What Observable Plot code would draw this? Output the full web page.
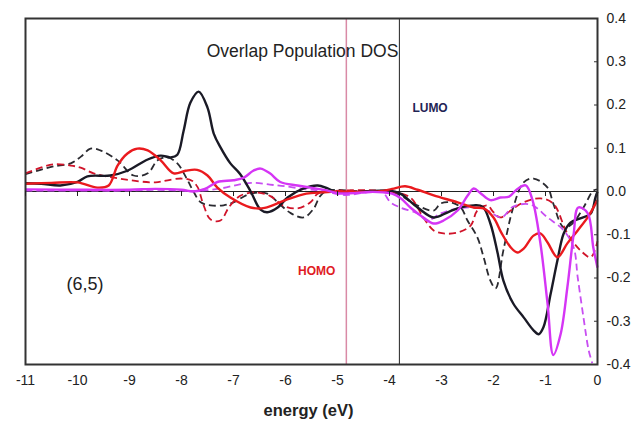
<!DOCTYPE html>
<html><head><meta charset="utf-8">
<script src="https://cdn.jsdelivr.net/npm/d3@7"></script>
<script src="https://cdn.jsdelivr.net/npm/@observablehq/plot@0.6"></script>
<style>
body{margin:0;background:#fff;font-family:"Liberation Sans",Arial,sans-serif}
#chart svg{display:block}
</style>
</head><body><div id="chart"></div>
<script>
// ---------- data ----------
const title = "Overlap Population DOS";
const xLabel = "energy (eV)";
const sampleLabel = "(6,5)";
const homoLabel = "HOMO";
const lumoLabel = "LUMO";
const homoEnergy = -4.83;
const lumoEnergy = -3.81;
const energyTicks = [-11,-10,-9,-8,-7,-6,-5,-4,-3,-2,-1,0];
const dosTicks = [-0.4,-0.3,-0.2,-0.1,0,0.1,0.2,0.3,0.4];

// [energy (eV), overlap population DOS]
const blackSolid = [[-11,0.019],[-10.7,0.018],[-10.33,0.014],[-10.0,0.022],[-9.81,0.035],[-9.37,0.037],[-9.04,0.048],[-8.65,0.074],[-8.4,0.083],[-8.21,0.079],[-8.08,0.085],[-7.96,0.14],[-7.83,0.205],[-7.67,0.231],[-7.5,0.194],[-7.38,0.134],[-7.25,0.102],[-7.06,0.065],[-6.87,0.04],[-6.67,0.0],[-6.48,-0.042],[-6.35,-0.048],[-6.15,-0.037],[-5.96,-0.014],[-5.65,0.007],[-5.38,0.014],[-5.19,0.007],[-5.0,-0.002],[-4.5,0.0],[-3.98,0.002],[-3.79,-0.005],[-3.46,-0.037],[-3.15,-0.06],[-2.88,-0.048],[-2.69,-0.039],[-2.38,-0.032],[-2.21,-0.035],[-2.06,-0.074],[-1.92,-0.143],[-1.81,-0.206],[-1.62,-0.259],[-1.42,-0.291],[-1.23,-0.321],[-1.13,-0.33],[-1.04,-0.314],[-0.9,-0.236],[-0.77,-0.159],[-0.65,-0.097],[-0.52,-0.072],[-0.33,-0.062],[-0.13,-0.051],[-0.04,-0.014],[0,0.0]];
const blackDashed = [[-11,0.04],[-10.71,0.05],[-10.46,0.058],[-10.13,0.065],[-9.94,0.08],[-9.75,0.099],[-9.56,0.095],[-9.23,0.072],[-8.92,0.037],[-8.65,0.042],[-8.46,0.072],[-8.27,0.079],[-8.08,0.065],[-7.9,0.03],[-7.77,0.0],[-7.63,-0.025],[-7.44,-0.032],[-7.19,-0.032],[-7.0,-0.025],[-6.67,-0.005],[-6.35,-0.005],[-6.15,-0.025],[-5.9,-0.05],[-5.65,-0.06],[-5.46,-0.04],[-5.33,-0.01],[-5.19,0.002],[-4.5,0.0],[-4.0,0.0],[-3.8,-0.008],[-3.5,-0.03],[-3.15,-0.044],[-3.02,-0.028],[-2.83,-0.025],[-2.63,-0.037],[-2.5,-0.067],[-2.31,-0.106],[-2.19,-0.152],[-2.06,-0.206],[-1.96,-0.224],[-1.81,-0.136],[-1.62,-0.037],[-1.42,0.021],[-1.23,0.03],[-0.96,0.009],[-0.85,-0.028],[-0.65,-0.083],[-0.48,-0.074],[-0.27,-0.037],[-0.08,0.002],[0,0.005]];
const redSolid = [[-11,0.018],[-10.5,0.02],[-10.0,0.021],[-9.62,0.009],[-9.4,0.014],[-9.23,0.06],[-9.04,0.088],[-8.85,0.099],[-8.65,0.095],[-8.4,0.072],[-8.15,0.042],[-7.92,0.048],[-7.7,0.05],[-7.5,0.037],[-7.31,0.009],[-7.06,-0.014],[-6.67,-0.037],[-6.4,-0.038],[-6.0,-0.02],[-5.6,-0.005],[-5.3,-0.002],[-5.0,0.0],[-4.2,0.0],[-3.95,0.006],[-3.7,0.012],[-3.46,0.004],[-3.15,-0.009],[-2.69,-0.025],[-2.38,-0.037],[-2.19,-0.039],[-2.0,-0.06],[-1.85,-0.095],[-1.67,-0.129],[-1.54,-0.141],[-1.42,-0.132],[-1.23,-0.102],[-1.1,-0.097],[-0.96,-0.118],[-0.77,-0.152],[-0.58,-0.12],[-0.38,-0.09],[-0.19,-0.06],[0,-0.02]];
const redDashed = [[-11,0.042],[-10.71,0.055],[-10.46,0.063],[-10.13,0.06],[-9.94,0.055],[-9.69,0.042],[-9.3,0.032],[-8.92,0.025],[-8.5,0.021],[-8.3,0.025],[-8.0,0.03],[-7.8,0.025],[-7.69,0.01],[-7.58,-0.03],[-7.44,-0.065],[-7.25,-0.067],[-7.08,-0.035],[-6.87,-0.01],[-6.6,-0.002],[-6.3,-0.01],[-6.04,-0.033],[-5.77,-0.039],[-5.52,-0.025],[-5.38,-0.005],[-5.2,0.0],[-4.0,0.0],[-3.6,-0.014],[-3.35,-0.06],[-3.15,-0.09],[-2.96,-0.097],[-2.69,-0.095],[-2.44,-0.079],[-2.31,-0.044],[-2.12,-0.032],[-2.0,-0.048],[-1.87,-0.06],[-1.67,-0.044],[-1.42,-0.025],[-1.1,-0.016],[-0.85,-0.028],[-0.58,-0.097],[-0.33,-0.136],[-0.13,-0.152],[0,-0.115]];
const magentaSolid = [[-11,0.005],[-10,0.004],[-9,0.004],[-8.5,0.006],[-8.0,0.004],[-7.77,0.0],[-7.55,0.006],[-7.31,0.022],[-7.0,0.026],[-6.8,0.032],[-6.62,0.048],[-6.48,0.053],[-6.3,0.042],[-6.1,0.022],[-5.77,0.014],[-5.52,0.009],[-5.19,0.002],[-5.0,-0.004],[-4.75,-0.004],[-4.37,-0.001],[-4.12,-0.002],[-3.95,-0.005],[-3.79,-0.015],[-3.6,-0.037],[-3.35,-0.06],[-3.15,-0.074],[-2.96,-0.067],[-2.69,-0.044],[-2.5,-0.01],[-2.38,0.007],[-2.25,-0.004],[-2.06,-0.02],[-1.87,-0.014],[-1.7,-0.012],[-1.54,0.006],[-1.38,0.014],[-1.25,-0.02],[-1.1,-0.118],[-0.96,-0.26],[-0.85,-0.378],[-0.71,-0.33],[-0.58,-0.222],[-0.46,-0.1],[-0.37,-0.037],[-0.19,-0.05],[-0.08,-0.13],[0,-0.176]];
const magentaDashed = [[-11,0.002],[-10,0.002],[-9,0.002],[-8.5,0.004],[-8,0.002],[-7.6,0.002],[-7.2,0.008],[-6.9,0.016],[-6.6,0.02],[-6.3,0.016],[-6.0,0.012],[-5.6,0.005],[-5.3,0.002],[-5.0,-0.006],[-4.8,-0.008],[-4.5,-0.003],[-4.15,0.0],[-3.98,-0.025],[-3.79,-0.037],[-3.46,-0.051],[-3.27,-0.067],[-3.02,-0.051],[-2.69,-0.039],[-2.38,-0.037],[-2.1,-0.045],[-1.85,-0.06],[-1.62,-0.035],[-1.29,-0.03],[-0.96,-0.06],[-0.65,-0.09],[-0.46,-0.129],[-0.38,-0.199],[-0.27,-0.291],[-0.17,-0.367],[-0.1,-0.397]];

// ---------- styling ----------
const W = 635, H = 430;
const mTop = 18, mBottom = 66, mLeft = 25, mRight = 38;
const innerH = H - mTop - mBottom;
const zeroOffset = innerH * (0 - dosTicks[0]) / (dosTicks[dosTicks.length-1] - dosTicks[0]);

const seriesStyles = [
  {data: blackDashed,   stroke: "#2a2a30", width: 1.8, dash: "7,4"},
  {data: redDashed,     stroke: "#d0142a", width: 1.8, dash: "7,4"},
  {data: magentaDashed, stroke: "#c84ef2", width: 1.8, dash: "7,4"},
  {data: blackSolid,    stroke: "#1a1a26", width: 2.4, dash: null},
  {data: redSolid,      stroke: "#ea1a1e", width: 2.4, dash: null},
  {data: magentaSolid,  stroke: "#d535f5", width: 2.4, dash: null}
];

const chart = Plot.plot({
  width: W, height: H,
  marginTop: mTop, marginBottom: mBottom, marginLeft: mLeft, marginRight: mRight,
  style: {fontFamily: '"Liberation Sans", Arial, sans-serif', background: "#fff", color: "#222"},
  x: {domain: [energyTicks[0], energyTicks[energyTicks.length-1]], axis: null, label: null},
  y: {domain: [dosTicks[0], dosTicks[dosTicks.length-1]], axis: null, label: null},
  marks: [
    Plot.ruleY([0], {stroke: "#222", strokeWidth: 1.1}),
    Plot.ruleX([homoEnergy], {stroke: "#d98aa6", strokeWidth: 1.5}),
    Plot.ruleX([lumoEnergy], {stroke: "#222", strokeWidth: 1}),
    ...seriesStyles.map(s => Plot.line(s.data, {
      x: d => d[0], y: d => d[1], curve: "catmull-rom",
      stroke: s.stroke, strokeWidth: s.width, strokeDasharray: s.dash,
      strokeLinejoin: "round", strokeLinecap: "butt"
    })),
    Plot.frame({stroke: "#333", strokeWidth: 2}),
    // x tick marks on the zero line
    Plot.axisX({anchor: "bottom", ticks: energyTicks, tickSize: 5, tickFormat: () => "", dy: -zeroOffset, stroke: "#222", label: null}),
    // x tick labels under the frame
    Plot.axisX({anchor: "bottom", ticks: energyTicks, tickSize: 0, tickPadding: 11, tickFormat: d => String(d), fontSize: 14, fill: "#222", label: null}),
    // y ticks inside the right border
    Plot.axisY({anchor: "right", ticks: dosTicks, tickSize: 4, dx: -4, tickFormat: () => "", stroke: "#333", label: null}),
    Plot.axisY({anchor: "right", ticks: dosTicks, tickSize: 0, tickPadding: 9, tickFormat: d => d.toFixed(1), fontSize: 14, fill: "#222", label: null}),
    Plot.text([title], {text: d => d, frameAnchor: "top", dx: -9, dy: 33, fontSize: 17.5, fill: "#222", lineAnchor: "middle"}),
    Plot.text([{e: lumoEnergy, t: lumoLabel}], {x: "e", text: "t", frameAnchor: "top", dx: 13, dy: 90, textAnchor: "start", lineAnchor: "middle", fontSize: 12, fontWeight: "bold", fill: "#1f2555"}),
    Plot.text([{e: homoEnergy, t: homoLabel}], {x: "e", text: "t", frameAnchor: "top", dx: -11, dy: 253, textAnchor: "end", lineAnchor: "middle", fontSize: 12, fontWeight: "bold", fill: "#e01b24"}),
    Plot.text([sampleLabel], {text: d => d, frameAnchor: "top-left", dx: 41, dy: 266, textAnchor: "start", lineAnchor: "middle", fontSize: 18, fill: "#222"}),
    Plot.text([xLabel], {text: d => d, frameAnchor: "bottom", dx: -3, dy: 46, lineAnchor: "middle", fontSize: 16.5, fontWeight: "bold", fill: "#222"})
  ]
});
document.getElementById("chart").appendChild(chart);
</script>
</body></html>
